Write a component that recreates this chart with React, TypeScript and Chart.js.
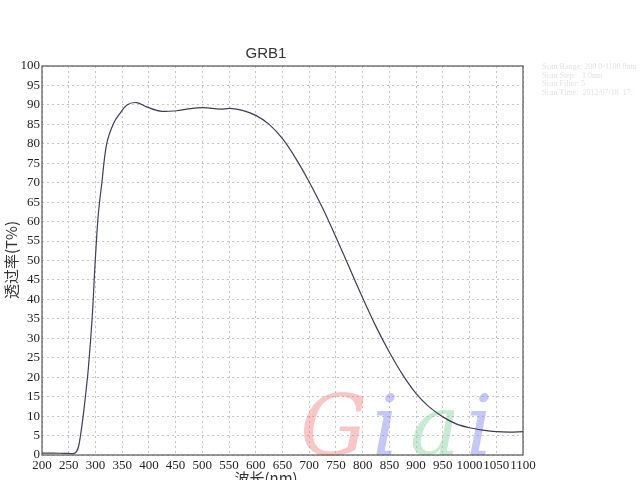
import React, { useEffect, useRef } from "react";
import { Chart, registerables } from "chart.js";

Chart.register(...registerables);

const wavelengths = [200, 220, 250, 262, 268, 272, 277, 282, 287, 294, 299, 305, 312, 321, 334, 346, 359, 377, 396, 421, 452, 471, 502, 533, 552, 575, 600, 625, 650, 675, 700, 725, 750, 775, 800, 825, 850, 875, 900, 925, 950, 975, 1000, 1025, 1050, 1075, 1100];
const transmittance = [0.5, 0.5, 0.4, 0.5, 2, 5, 10, 16, 22.7, 35.6, 48.4, 61.3, 70, 80, 85.3, 87.8, 90, 90.6, 89.5, 88.4, 88.5, 88.9, 89.3, 88.9, 89.1, 88.6, 87.3, 85.0, 81.3, 76.2, 70.2, 63.5, 56.0, 48.2, 40.4, 33.0, 26.4, 20.6, 15.8, 12.3, 9.8, 8.0, 7.0, 6.4, 6.0, 5.9, 6.0];

const chartTitle = "GRB1";
const yAxisTitle = "透过率(T%)";
const xAxisTitle = "波长(nm)";
const scanInfo = ["Scan Range: 200.0-1100.0nm", "Scan Step:   1.0nm", "Scan Filter: 5", "Scan Time:  2012/07/18  17:"];
const watermark = [
  { ch: "G", color: "rgba(240,120,120,0.42)" },
  { ch: "i", color: "rgba(120,120,240,0.42)" },
  { ch: "a", color: "rgba(120,205,150,0.42)" },
  { ch: "i", color: "rgba(120,120,240,0.42)" },
];

const decorPlugin = {
  id: "decor",
  beforeDatasetsDraw(chart: any) {
    const { ctx, chartArea } = chart;
    ctx.save();
    ctx.font = "italic 84px 'DejaVu Serif'";
    ctx.textBaseline = "alphabetic";
    const xs = [300, 372, 410, 466];
    watermark.forEach((w, i) => {
      ctx.fillStyle = w.color;
      ctx.fillText(w.ch, xs[i], chartArea.bottom);
    });
    ctx.restore();
  },
  afterDraw(chart: any) {
    const { ctx, chartArea } = chart;
    ctx.save();
    ctx.strokeStyle = "#555";
    ctx.lineWidth = 1.2;
    ctx.strokeRect(chartArea.left, chartArea.top, chartArea.right - chartArea.left, chartArea.bottom - chartArea.top);

    ctx.fillStyle = "#333";
    ctx.font = "15px 'Liberation Sans'";
    ctx.textAlign = "center";
    ctx.textBaseline = "alphabetic";
    ctx.fillText(chartTitle, 266, 58);

    ctx.font = "15px 'Noto Sans CJK SC'";
    ctx.textBaseline = "top";
    ctx.fillText(xAxisTitle, 266, 471);

    ctx.save();
    ctx.translate(11, 260);
    ctx.rotate(-Math.PI / 2);
    ctx.textBaseline = "middle";
    ctx.fillText(yAxisTitle, 0, 0);
    ctx.restore();

    ctx.fillStyle = "#e2e2e2";
    ctx.font = "8px 'Liberation Serif'";
    ctx.textAlign = "left";
    ctx.textBaseline = "middle";
    scanInfo.forEach((s, i) => ctx.fillText(s, 542, 67 + i * 8.7));
    ctx.restore();
  },
};

export default function App() {
  const ref = useRef<HTMLCanvasElement>(null);
  useEffect(() => {
    if (!ref.current) return;
    const chart = new Chart(ref.current, {
      type: "line",
      data: {
        datasets: [
          {
            data: wavelengths.map((x, i) => ({ x, y: transmittance[i] })),
            borderColor: "#3a3f52",
            borderWidth: 1.2,
            pointRadius: 0,
            tension: 0.35,
            fill: false,
          },
        ],
      },
      options: {
        animation: false,
        responsive: false,
        maintainAspectRatio: false,
        layout: { padding: { left: 0, right: 117, top: 66, bottom: 0 } },
        plugins: { legend: { display: false }, tooltip: { enabled: false }, title: { display: false } },
        scales: {
          x: {
            type: "linear",
            min: 200,
            max: 1100,
            afterFit: (s: any) => { s.height = 25; },
            ticks: {
              stepSize: 50, autoSkip: false, maxRotation: 0, minRotation: 0, color: "#222", padding: 3,
              font: { family: "'Liberation Serif'", size: 13 },
              callback: (v: any) => String(v),
            },
            grid: { color: "#c4c4c4", lineWidth: 1, drawTicks: false, tickLength: 0 },
            border: { display: false, dash: [2, 3] },
          },
          y: {
            min: 0,
            max: 100,
            afterFit: (s: any) => { s.width = 42; },
            ticks: { stepSize: 5, color: "#222", padding: 2, font: { family: "'Liberation Serif'", size: 13 }, callback: (v: any) => String(v) },
            grid: { color: "#c4c4c4", lineWidth: 1, drawTicks: false, tickLength: 0 },
            border: { display: false, dash: [2, 3] },
          },
        },
      } as any,
      plugins: [decorPlugin],
    });
    return () => chart.destroy();
  }, []);
  return (
    <div style={{ position: "fixed", left: 0, top: 0, width: 640, height: 480, background: "#fff" }}>
      <canvas ref={ref} width={640} height={480} style={{ width: 640, height: 480 }} />
    </div>
  );
}
